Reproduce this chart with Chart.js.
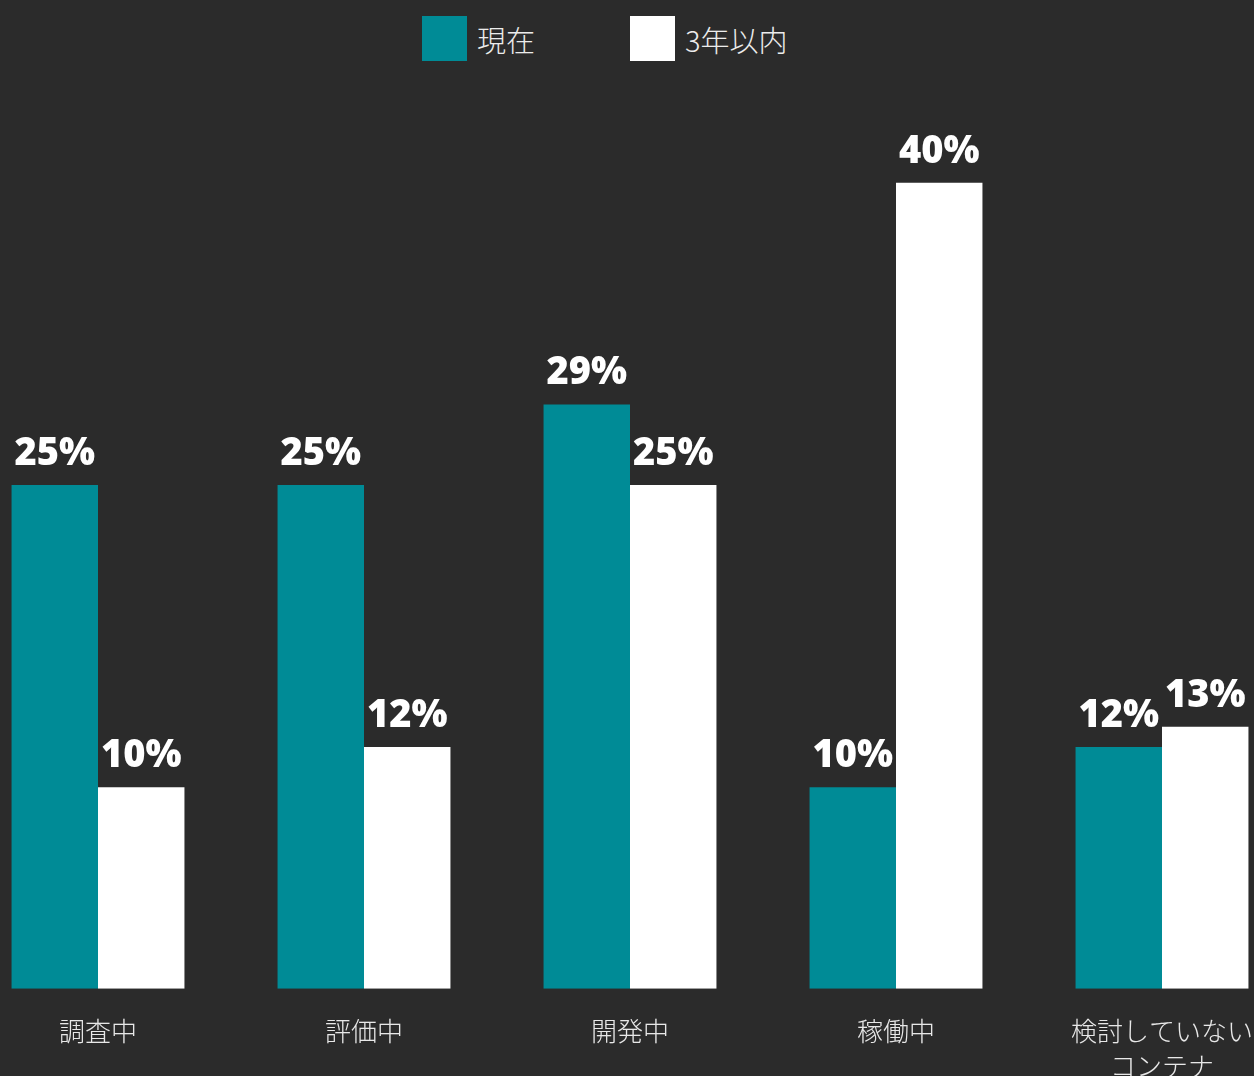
<!DOCTYPE html>
<html>
<head>
  <meta charset="UTF-8">
  <meta name="viewport" content="width=device-width, initial-scale=1.0">
  <script src="https://cdn.jsdelivr.net/npm/chart.js@4.4.0/dist/chart.umd.min.js"></script>
  <style>
    html, body { margin: 0; padding: 0; background: #2b2b2b; overflow: hidden; }
    body { width: 1254px; height: 1076px; position: relative; }
    #legend { position: absolute; left: 422px; top: 16px; display: flex; align-items: center;
      font-family: 'Noto Sans CJK JP', sans-serif; font-size: 29px; font-weight: 300; color: #ececec; }
    #legend .item { display: flex; align-items: center; margin-right: 95px; }
    #legend .box { width: 45px; height: 45px; margin-right: 10px; }
    #wrap { position: absolute; left: -35px; top: 0; width: 1330px; height: 1109px; }
  </style>
</head>
<body>
  <div id="legend"></div>
  <div id="wrap"><canvas id="myChart"></canvas></div>

  <script>
    // カテゴリと系列データ（%）
    let categories = ['調査中', '評価中', '開発中', '稼働中', ['検討していない', 'コンテナ']];
    let seriesNames = ['現在', '3年以内'];
    let nowValues = [25, 25, 29, 10, 12];
    let in3yearsValues = [10, 12, 25, 40, 13];

    let teal = '#008b96';
    let white = '#ffffff';

    // 棒の上に値ラベルを描く
    let valueLabels = {
      id: 'valueLabels',
      afterDatasetsDraw: function(chart) {
        let ctx = chart.ctx;
        ctx.save();
        ctx.font = "800 38px 'Open Sans'";
        ctx.fillStyle = '#ffffff';
        ctx.textAlign = 'center';
        ctx.textBaseline = 'alphabetic';
        chart.data.datasets.forEach(function(ds, i) {
          chart.getDatasetMeta(i).data.forEach(function(bar, j) {
            ctx.fillText(ds.data[j] + '%', bar.x, bar.y - 20);
          });
        });
        ctx.restore();
      }
    };

    Chart.defaults.font.family = "'Noto Sans CJK JP', sans-serif";

    let ctx = document.getElementById('myChart').getContext('2d');
    let chart = new Chart(ctx, {
      type: 'bar',
      data: {
        labels: categories,
        datasets: [
          { label: seriesNames[0], data: nowValues, backgroundColor: teal },
          { label: seriesNames[1], data: in3yearsValues, backgroundColor: white }
        ]
      },
      options: {
        responsive: true,
        maintainAspectRatio: false,
        animation: false,
        layout: { padding: { top: 82, left: 0, right: 0, bottom: 0 } },
        datasets: { bar: { barPercentage: 1, categoryPercentage: 0.65 } },
        plugins: {
          legend: { display: false },
          tooltip: { enabled: false }
        },
        scales: {
          x: {
            grid: { display: false, drawTicks: false },
            border: { display: false },
            ticks: {
              color: '#e8e8e8',
              font: { size: 26, weight: 300, lineHeight: 1.35 },
              padding: 25,
              maxRotation: 0,
              autoSkip: false
            }
          },
          y: {
            display: false,
            min: 0,
            max: 45
          }
        }
      },
      plugins: [valueLabels]
    });

    // 凡例
    let legend = document.getElementById('legend');
    chart.data.datasets.forEach(function(ds) {
      let item = document.createElement('div');
      item.className = 'item';
      item.innerHTML = "<span class='box' style='background:" + ds.backgroundColor + "'></span><span>" + ds.label + "</span>";
      legend.appendChild(item);
    });
  </script>
</body>
</html>
